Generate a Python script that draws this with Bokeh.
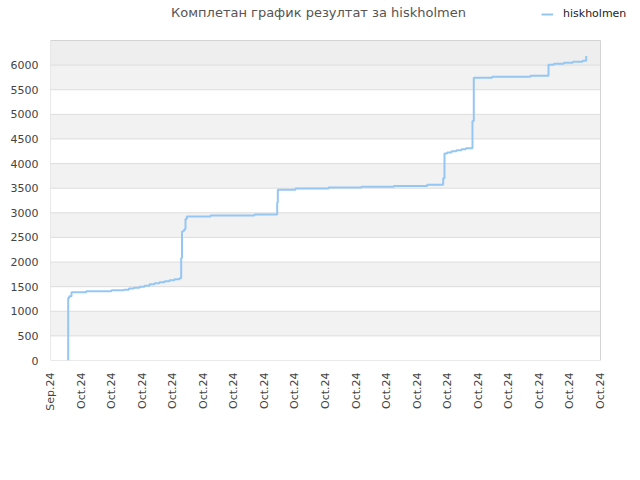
from bokeh.plotting import figure
from bokeh.models import (FixedTicker, BoxAnnotation, Label, Legend, LegendItem, Range1d)
from bokeh.embed import file_html
from bokeh.resources import INLINE
import math

# ---- data ----
tick_labels = ["Sep.24"] + ["Oct.24"] * 18
series_name = "hiskholmen"
title_text = "Комплетан график резултат за hiskholmen"

score_x = [0.579, 0.579, 0.612, 0.687, 1.168, 1.996, 2.399, 2.563, 2.726, 2.913,
           3.076, 3.240, 3.404, 3.567, 3.731, 3.894, 4.058, 4.222, 4.277, 4.304,
           4.343, 4.385, 4.418, 4.461, 5.236, 6.676, 7.419, 7.439, 8.018, 9.098,
           10.178, 11.235, 12.328, 12.852, 12.894, 12.983, 13.123, 13.287, 13.451,
           13.591, 13.810, 13.853, 14.455, 15.709, 16.298, 16.472, 16.799, 17.094,
           17.411, 17.532]
score_y = [0, 1271, 1303, 1385, 1405, 1425, 1439, 1460, 1480, 1500,
           1520, 1547, 1567, 1588, 1608, 1628, 1649, 1669, 2082, 2621,
           2635, 2669, 2872, 2926, 2946, 2966, 3209, 3467, 3493, 3513,
           3527, 3547, 3568, 3703, 4203, 4223, 4250, 4271, 4291,
           4311, 4865, 5743, 5763, 5784, 6007, 6027, 6048, 6068,
           6088, 6183]

y_ticks = list(range(0, 6001, 500))
y_max = 6500

FONT = "DejaVu Sans"
LINE_COLOR = "#95c6f4"

W, H = 640, 480
LEFT, RIGHT_PX, TOP_PX, BOTTOM = 50, 600, 40, 120  # plot box in page pixels
x_last = len(tick_labels) - 1
# the frame spans the whole upper area so that title and legend are not clipped
frame_w = W - LEFT
frame_h = H - BOTTOM
x_hi = x_last * frame_w / (RIGHT_PX - LEFT)
y_hi = y_max * frame_h / (frame_h - TOP_PX)

p = figure(width=W, height=H, output_backend="svg", toolbar_location=None,
           x_range=Range1d(0, x_hi), y_range=Range1d(0, y_hi),
           min_border_left=LEFT, min_border_right=0, min_border_top=0,
           min_border_bottom=BOTTOM)
p.outline_line_color = None
p.background_fill_color = "white"
p.border_fill_color = "white"

# alternating bands
for i in range(len(y_ticks) - 1):
    if i % 2 == 1:
        p.add_layout(BoxAnnotation(left=0, right=x_last, bottom=y_ticks[i], top=y_ticks[i + 1],
                                   fill_color="#f2f2f2", fill_alpha=1, line_alpha=0,
                                   level="underlay"))
p.add_layout(BoxAnnotation(left=0, right=x_last, bottom=y_ticks[-1], top=y_max,
                           fill_color="#eeeeee", fill_alpha=1, line_alpha=0,
                           level="underlay"))

p.xgrid.visible = False
p.ygrid.visible = False
p.segment(x0=[0] * (len(y_ticks) - 1), x1=[x_last] * (len(y_ticks) - 1),
          y0=y_ticks[1:], y1=y_ticks[1:], line_color="#dddddd", line_width=1)

# plot-area border
p.add_layout(BoxAnnotation(left=0, right=x_last, bottom=0, top=y_max, fill_alpha=0,
                           line_color="#d4d4d4", line_alpha=1, line_width=1))

r = p.step(score_x, score_y, mode="after", line_color=LINE_COLOR, line_width=2)

# axes
p.yaxis.ticker = FixedTicker(ticks=y_ticks)
p.xaxis.ticker = FixedTicker(ticks=list(range(len(tick_labels))))
p.xaxis.major_label_overrides = {i: t for i, t in enumerate(tick_labels)}
p.xaxis.major_label_orientation = math.pi / 2
for ax in (p.xaxis, p.yaxis):
    ax.major_tick_line_color = None
    ax.minor_tick_line_color = None
    ax.axis_line_color = None
    ax.major_label_text_font = FONT
    ax.major_label_text_font_size = "11px"
    ax.major_label_text_color = "#444444"
    ax.major_label_standoff = 6

# title (screen units are relative to the frame's bottom-left)
p.add_layout(Label(x=318 - LEFT, y=frame_h - 12, x_units="screen", y_units="screen",
                   text=title_text, text_font=FONT, text_font_size="13px",
                   text_color="#555555", text_align="center", text_baseline="middle"))

legend = Legend(items=[LegendItem(label=series_name, renderers=[r])],
                location=(541 - LEFT, frame_h - 20), background_fill_alpha=0,
                border_line_alpha=0, label_text_font=FONT, label_text_font_size="11px",
                label_text_color="#222222", glyph_width=12, glyph_height=10,
                padding=0, margin=0, label_standoff=10)
p.add_layout(legend, "center")

open("out.html", "w").write(file_html(p, INLINE))
